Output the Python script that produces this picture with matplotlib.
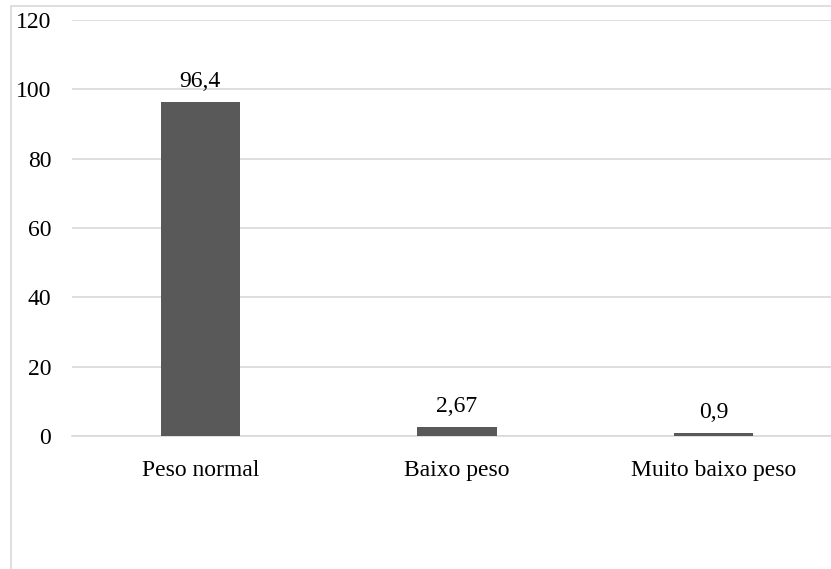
import matplotlib.pyplot as plt
from matplotlib.patches import Rectangle

categories = ['Peso normal', 'Baixo peso', 'Muito baixo peso']
values = [96.4, 2.67, 0.9]
value_labels = ['96,4', '2,67', '0,9']
y_ticks = [0, 20, 40, 60, 80, 100, 120]

plt.rcParams['font.family'] = ['Liberation Serif', 'DejaVu Serif']

fig = plt.figure(figsize=(8.31, 5.69), dpi=100)
fig.patch.set_facecolor('white')

# plot area runs past the right edge of the picture (cropped chart)
ax = fig.add_axes([72 / 831, 133 / 569, 770 / 831, 416 / 569])

# outer chart frame, also cropped on the right and bottom
frame_top = 1 - 6 / 569
fig.patches.append(Rectangle((11 / 831, -0.05), 1.1, frame_top + 0.05,
                             transform=fig.transFigure, fill=False,
                             edgecolor='#d9d9d9', linewidth=1.2, clip_on=False))

x = range(len(categories))
bars = ax.bar(x, values, width=0.31, color='#595959', zorder=3)

for b, lab in zip(bars, value_labels):
    ax.annotate(lab, (b.get_x() + b.get_width() / 2, b.get_height()),
                xytext=(0, 7), textcoords='offset points',
                ha='center', va='bottom', fontsize=17, color='black')

ax.set_xlim(-0.5, 2.5)
ax.set_ylim(0, 120)
ax.set_yticks(y_ticks)
ax.set_yticklabels([str(t) for t in y_ticks], fontsize=17, color='black')
ax.set_xticks(list(x))
ax.set_xticklabels(categories, fontsize=17, color='black')

ax.grid(axis='y', color='#d9d9d9', linewidth=1.2, zorder=0)
for s in ['top', 'right', 'left']:
    ax.spines[s].set_visible(False)
ax.spines['bottom'].set_color('#d9d9d9')
ax.spines['bottom'].set_linewidth(1.2)
ax.tick_params(axis='y', length=0, pad=15)
ax.tick_params(axis='x', length=0, pad=17)

fig.savefig('out.png', dpi=100, facecolor='white')
